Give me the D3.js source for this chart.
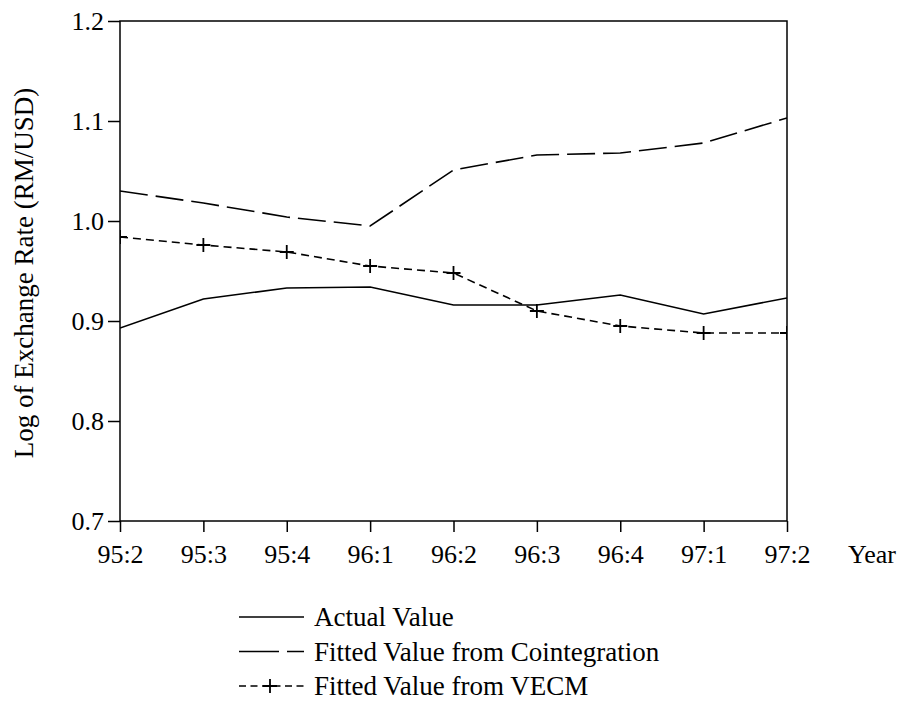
<meta charset="utf-8">
<style>
  body { margin: 0; background: #fff; }
  text { font-family: "Liberation Serif", "Times New Roman", serif; fill: #000; }
  .axis path, .axis line { stroke: #000; stroke-width: 1.5; }
</style>
<body>
<script src="https://d3js.org/d3.v7.min.js"></script>
<script>

  // quarters on the x axis
  const quarters = ["95:2", "95:3", "95:4", "96:1", "96:2", "96:3", "96:4", "97:1", "97:2"];

  // series values
  const actual = [0.893, 0.922, 0.933, 0.934, 0.916, 0.916, 0.926, 0.907, 0.923];
  const cointegration = [1.030, 1.018, 1.004, 0.995, 1.051, 1.066, 1.068, 1.078, 1.103];
  const vecm = [0.984, 0.976, 0.969, 0.955, 0.948, 0.910, 0.895, 0.888, 0.888];

  const yTicks = [0.7, 0.8, 0.9, 1.0, 1.1, 1.2];

  const margin = { top: 21, left: 120, right: 117, bottom: 183 };
  const W = 904, H = 704;
  const width = W - margin.left - margin.right;
  const height = H - margin.top - margin.bottom;

  const svg = d3.select("body").append("svg")
    .attr("width", W)
    .attr("height", H);

  const g = svg.append("g")
    .attr("transform", `translate(${margin.left}, ${margin.top})`);

  const x = d3.scalePoint().domain(quarters).range([0, width]);
  const y = d3.scaleLinear().domain([0.7, 1.2]).range([height, 0]);

  g.append("clipPath").attr("id", "clip")
    .append("rect").attr("width", width).attr("height", height);

  // frame
  g.append("rect")
    .attr("width", width).attr("height", height)
    .attr("fill", "none").attr("stroke", "#000").attr("stroke-width", 1.5);

  // axes
  const yAxis = g.append("g").attr("class", "axis")
    .call(d3.axisLeft(y).tickValues(yTicks).tickFormat(d3.format(".1f")).tickSize(12).tickSizeOuter(0));
  yAxis.select(".domain").remove();
  yAxis.selectAll("text").attr("font-size", 26).attr("x", -16);

  const xAxis = g.append("g").attr("class", "axis")
    .attr("transform", `translate(0, ${height})`)
    .call(d3.axisBottom(x).tickSize(11).tickSizeOuter(0));
  xAxis.select(".domain").remove();
  xAxis.selectAll("text").attr("font-size", 26).attr("y", 24);

  g.append("text")
    .attr("x", width + 61).attr("y", height + 42)
    .attr("font-size", 26)
    .text("Year");

  svg.append("text")
    .attr("transform", `translate(33, ${margin.top + height / 2 + 2}) rotate(-90)`)
    .attr("text-anchor", "middle")
    .attr("font-size", 27)
    .text("Log of Exchange Rate (RM/USD)");

  // lines
  const line = d3.line().x((d, i) => x(quarters[i])).y(d => y(d));

  const plot = g.append("g").attr("clip-path", "url(#clip)");

  plot.append("path").datum(actual)
    .attr("d", line).attr("fill", "none").attr("stroke", "#000").attr("stroke-width", 1.6);

  plot.append("path").datum(cointegration)
    .attr("d", line).attr("fill", "none").attr("stroke", "#000").attr("stroke-width", 1.6)
    .attr("stroke-dasharray", "28,8");

  plot.append("path").datum(vecm)
    .attr("d", line).attr("fill", "none").attr("stroke", "#000").attr("stroke-width", 1.6)
    .attr("stroke-dasharray", "8,5");

  const plus = 7;
  plot.selectAll(".mark").data(vecm).join("path")
    .attr("class", "mark")
    .attr("d", (d, i) => {
      const cx = x(quarters[i]), cy = y(d);
      return `M${cx - plus},${cy}H${cx + plus}M${cx},${cy - plus}V${cy + plus}`;
    })
    .attr("stroke", "#000").attr("stroke-width", 1.8);

  // legend
  const legendNames = ["Actual Value", "Fitted Value from Cointegration", "Fitted Value from VECM"];
  const legend = svg.append("g").attr("transform", "translate(239, 617)");
  legendNames.forEach((name, i) => {
    const row = legend.append("g").attr("transform", `translate(0, ${i * 34.5})`);
    if (i === 0) {
      row.append("line").attr("x1", 0).attr("x2", 65).attr("stroke", "#000").attr("stroke-width", 1.6);
    } else if (i === 1) {
      row.append("line").attr("x1", 0).attr("x2", 65).attr("stroke", "#000").attr("stroke-width", 1.6)
        .attr("stroke-dasharray", "40,8,17,100");
    } else {
      row.append("line").attr("x1", 0).attr("x2", 65).attr("stroke", "#000").attr("stroke-width", 1.6)
        .attr("stroke-dasharray", "7,4.5");
      row.append("path").attr("d", `M${31 - plus},0H${31 + plus}M31,${-plus}V${plus}`)
        .attr("stroke", "#000").attr("stroke-width", 1.8);
    }
    row.append("text").attr("x", 75).attr("dy", "0.35em").attr("font-size", 27).text(name);
  });

</script>
</body>
